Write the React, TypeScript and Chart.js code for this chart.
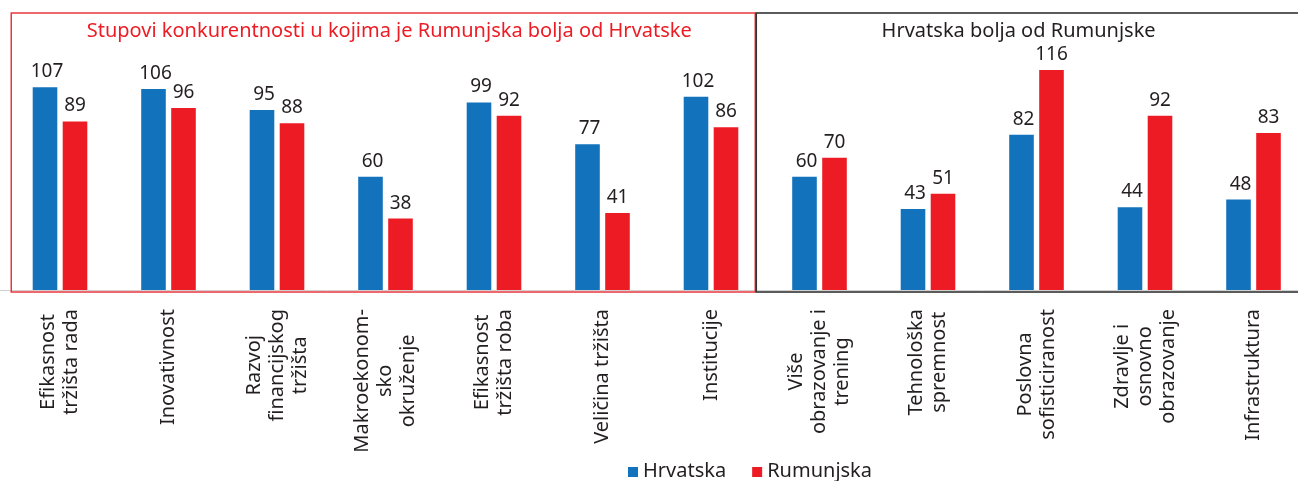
import React, { useEffect, useRef } from 'react';
import { Chart, registerables } from 'chart.js';
Chart.register(...registerables);

const categories: string[][] = [
  ['Efikasnost', 'tržišta rada'],
  ['Inovativnost'],
  ['Razvoj', 'financijskog', 'tržišta'],
  ['Makroekonom-', 'sko', 'okruženje'],
  ['Efikasnost', 'tržišta roba'],
  ['Veličina tržišta'],
  ['Institucije'],
  ['Više', 'obrazovanje i', 'trening'],
  ['Tehnološka', 'spremnost'],
  ['Poslovna', 'sofisticiranost'],
  ['Zdravlje i', 'osnovno', 'obrazovanje'],
  ['Infrastruktura'],
];
const hrvatska = [107, 106, 95, 60, 99, 77, 102, 60, 43, 82, 44, 48];
const rumunjska = [89, 96, 88, 38, 92, 41, 86, 70, 51, 116, 92, 83];
const seriesNames = ['Hrvatska', 'Rumunjska'];
const groupTitles = [
  'Stupovi konkurentnosti u kojima je Rumunjska bolja od Hrvatske',
  'Hrvatska bolja od Rumunjske',
];
const groupSplit = 7;

const BLUE = '#1272BC';
const RED = '#ED1C24';
const TEXT = '#231F20';
const FONT = '"Noto Sans", sans-serif';

const decorPlugin = {
  id: 'decor',
  afterDatasetsDraw(chart: any) {
    const ctx = chart.ctx as CanvasRenderingContext2D;
    const xs = chart.scales.x;
    const ys = chart.scales.y;
    const base = ys.getPixelForValue(0);
    const area = chart.chartArea;
    ctx.save();

    // faint baseline
    ctx.strokeStyle = '#d0d0d0';
    ctx.lineWidth = 1;
    ctx.beginPath();
    ctx.moveTo(0, base - 0.5);
    ctx.lineTo(chart.width, base - 0.5);
    ctx.stroke();

    // group boxes
    const top = 13;
    const leftX = area.left + 5.5;
    const splitX = (xs.getPixelForValue(groupSplit - 1) + xs.getPixelForValue(groupSplit)) / 2 - 10;
    const rightX = chart.width + 5;
    ctx.strokeStyle = '#E8363C';
    ctx.lineWidth = 1.5;
    ctx.strokeRect(leftX, top, splitX - leftX, base + 1 - top);
    ctx.strokeStyle = '#333333';
    ctx.lineWidth = 1.6;
    ctx.strokeRect(splitX + 1, top, rightX - splitX - 1, base + 1 - top);

    // titles
    ctx.font = `20px ${FONT}`;
    ctx.textAlign = 'center';
    ctx.textBaseline = 'alphabetic';
    ctx.fillStyle = RED;
    ctx.fillText(groupTitles[0], (leftX + splitX) / 2 + 6, 37);
    ctx.fillStyle = TEXT;
    ctx.fillText(groupTitles[1], (splitX + 1298) / 2 - 8, 37);

    // value labels
    ctx.font = `19px ${FONT}`;
    ctx.fillStyle = TEXT;
    chart.data.datasets.forEach((ds: any, di: number) => {
      const meta = chart.getDatasetMeta(di);
      meta.data.forEach((bar: any, i: number) => {
        ctx.fillText(String(ds.data[i]), bar.x + (di === 0 ? 2 : 0), bar.y - 10);
      });
    });

    // category labels (rotated, lines centered)
    ctx.font = `20px ${FONT}`;
    ctx.textBaseline = 'middle';
    const lineH = 23;
    categories.forEach((lines, i) => {
      const x = xs.getPixelForValue(i);
      let maxW = 0;
      lines.forEach((l) => (maxW = Math.max(maxW, ctx.measureText(l).width)));
      ctx.save();
      ctx.translate(x, base + 18 + maxW / 2);
      ctx.rotate(-Math.PI / 2);
      ctx.textAlign = 'center';
      lines.forEach((l, j) => {
        ctx.fillText(l, 0, (j - (lines.length - 1) / 2) * lineH);
      });
      ctx.restore();
    });

    // legend
    ctx.font = `20px ${FONT}`;
    ctx.textAlign = 'left';
    ctx.textBaseline = 'alphabetic';
    let lx = 628;
    const colors = [BLUE, RED];
    seriesNames.forEach((name, k) => {
      ctx.fillStyle = colors[k];
      ctx.fillRect(lx, 467, 10, 10);
      ctx.fillStyle = TEXT;
      ctx.fillText(name, lx + 15, 477);
      lx += 15 + ctx.measureText(name).width + 26;
    });

    ctx.restore();
  },
};

export default function App() {
  const ref = useRef<HTMLCanvasElement | null>(null);
  useEffect(() => {
    if (!ref.current) return;
    const chart = new Chart(ref.current, {
      type: 'bar',
      data: {
        labels: categories.map((c) => c.join(' ')),
        datasets: [
          {
            label: seriesNames[0],
            data: hrvatska,
            backgroundColor: BLUE,
            categoryPercentage: 0.553,
            barPercentage: 0.82,
          },
          {
            label: seriesNames[1],
            data: rumunjska,
            backgroundColor: RED,
            categoryPercentage: 0.553,
            barPercentage: 0.82,
          },
        ],
      },
      options: {
        responsive: false,
        animation: false,
        layout: { padding: { left: 5.75, right: 2.25, top: 24.3, bottom: 190 } },
        scales: {
          x: { display: false, offset: true },
          y: { display: false, min: 0, max: 140 },
        },
        plugins: {
          legend: { display: false },
          tooltip: { enabled: false },
          title: { display: false },
        },
      },
      plugins: [decorPlugin],
    });
    return () => chart.destroy();
  }, []);
  return (
    <div style={{ position: 'absolute', left: 0, top: 0, width: 1298, height: 481, overflow: 'hidden', background: '#fff' }}>
      <canvas ref={ref} width={1310} height={481} style={{ display: 'block' }} />
    </div>
  );
}
